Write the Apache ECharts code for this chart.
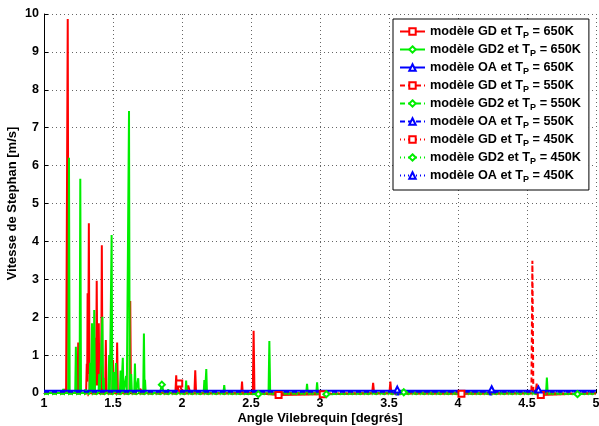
<!DOCTYPE html>
<html>
<head>
<meta charset="utf-8">
<script src="https://cdn.jsdelivr.net/npm/echarts@6/dist/echarts.min.js"></script>
<style>html,body{margin:0;padding:0;background:#fff}#c{width:599px;height:426px}</style>
</head>
<body>
<div id="c"></div>
<script>
// x ticks and y ticks
var xTicks = [1, 1.5, 2, 2.5, 3, 3.5, 4, 4.5, 5];
var yTicks = [0, 1, 2, 3, 4, 5, 6, 7, 8, 9, 10];

// series names
var models = ['GD', 'GD2', 'OA'];
var temps = ['650K', '550K', '450K'];

// modèle GD, Tp = 650K  [angle, vitesse]
var gd650 = [[1,0],[1.14,0],[1.15,0.1],[1.16,0],[1.166,0],[1.172,9.87],[1.178,0],[1.243,0],[1.248,1.33],[1.253,0],
 [1.305,0],[1.31,0.77],[1.313,0.3],[1.316,2.63],[1.32,0.5],[1.325,4.48],[1.33,0],[1.367,0],[1.372,1.46],[1.377,0.2],
 [1.382,2.96],[1.387,0.2],[1.392,0.3],[1.397,1.84],[1.401,0.3],[1.405,0.74],[1.41,0.1],[1.414,0],[1.419,3.9],[1.424,0],
 [1.443,0],[1.448,1.4],[1.453,0],[1.495,0],[1.5,0.87],[1.505,0],[1.525,0],[1.53,1.33],[1.535,0],[1.62,0],[1.625,2.43],
 [1.63,0],[1.7,0.1],[1.71,0],[1.952,0],[1.958,0.47],[1.964,0.05],[1.98,0.25],[1.995,0.1],[2.03,0],[2.045,0.2],[2.06,0],
 [2.09,0],[2.096,0.6],[2.102,0],[2.43,0],[2.435,0.3],[2.44,0],[2.513,0],[2.519,1.64],[2.525,0],[2.7,-0.05],[3.02,-0.03],
 [3.378,0],[3.385,0.27],[3.392,0],[3.503,0],[3.51,0.3],[3.517,0],[4.025,-0.02],[4.562,0],[4.57,0.25],[4.578,0],[4.6,-0.05],[5,0]];
var gd650Marks = [1.98, 2.7, 3.02, 4.025, 4.6];

// modèle GD2, Tp = 650K
var gd2650 = [[1,0],[1.13,0],[1.14,0.1],[1.15,0],[1.176,0],[1.181,6.21],[1.186,0],[1.226,0],[1.231,1.22],[1.236,0],
 [1.258,0],[1.263,5.65],[1.268,0],[1.295,0],[1.3,0.1],[1.305,0],[1.329,0],[1.334,0.8],[1.339,0],[1.343,0],[1.348,1.84],
 [1.353,0.1],[1.359,0],[1.364,2.19],[1.369,0],[1.395,0],[1.4,0.5],[1.405,0],[1.418,0],[1.423,2.01],[1.428,0.1],[1.432,0.4],
 [1.436,0],[1.467,0],[1.472,1.0],[1.477,0],[1.485,0],[1.49,4.17],[1.495,0],[1.502,0],[1.507,0.55],[1.512,0],[1.518,0],
 [1.522,0.79],[1.527,0],[1.55,0],[1.555,0.59],[1.56,0],[1.566,0],[1.571,0.93],[1.576,0],[1.59,0],[1.595,0.45],[1.6,0],
 [1.611,0],[1.616,7.44],[1.621,0],[1.628,0],[1.632,0.5],[1.637,0],[1.654,0],[1.659,0.78],[1.664,0],[1.678,0],[1.683,0.39],
 [1.688,0],[1.719,0],[1.724,1.57],[1.729,0],[1.732,0.35],[1.737,0],[1.84,0],[1.854,0.22],[1.868,0],[1.895,0],[1.9,0.1],
 [1.905,0],[2.025,0],[2.03,0.33],[2.035,0],[2.157,0],[2.162,0.34],[2.167,0],[2.171,0],[2.176,0.63],[2.181,0],[2.3,0],
 [2.306,0.21],[2.312,0],[2.553,-0.03],[2.627,0],[2.633,1.37],[2.639,0],[2.9,0],[2.906,0.24],[2.912,0],[2.973,0],[2.979,0.28],
 [2.985,0],[3.046,-0.03],[3.607,0.02],[4.638,0],[4.644,0.41],[4.65,0],[4.866,-0.03],[5,0]];
var gd2650Marks = [1.854, 2.553, 3.046, 3.607, 4.866];

// modèle OA, Tp = 650K
var oa650 = [[1,0.06],[3.55,0.06],[3.56,0.09],[3.57,0.06],[4.234,0.06],[4.244,0.1],[4.254,0.06],[4.573,0.06],[4.583,0.09],[4.593,0.06],[5,0.06]];
var oa650Marks = [3.56, 4.244, 4.583];

// Tp = 550K
var gd550 = [[1,-0.01],[1.95,-0.01],[1.97,0.12],[1.99,-0.01],[4.532,-0.01],[4.539,3.49],[4.546,-0.01],[5,-0.01]];
var gd2550 = [[1,-0.02],[1.3,-0.02],[1.31,0.1],[1.32,-0.02],[5,-0.02]];
var oa550 = [[1,0.03],[3.54,0.03],[3.55,-0.04],[3.58,-0.04],[3.59,0.03],[4.22,0.03],[4.23,-0.04],[4.26,-0.04],[4.27,0.03],[5,0.03]];

// Tp = 450K
var gd450 = [[1,-0.02],[1.3,-0.02],[1.32,-0.06],[1.36,-0.02],[5,-0.02]];
var gd2450 = [[1,-0.03],[1.5,-0.03],[1.52,-0.05],[1.54,-0.03],[5,-0.03]];
var oa450 = [[1,0.04],[5,0.04]];

var colors = {GD:'#ff0000', GD2:'#00ee00', OA:'#0000ff'};
var symbols = {GD:'emptyRect', GD2:'emptyDiamond', OA:'emptyTriangle'};
var dashes = {'650K':'solid', '550K':[5,3], '450K':[1,3]};

function nameOf(m, t){ return 'modèle ' + m + ' et T_P = ' + t; }

function build(pts, marks){
  return pts.map(function(p){
    if (marks && marks.indexOf(p[0]) >= 0) return {value:p};
    return {value:p, symbol:'none'};
  });
}

var table = [
  ['GD','650K',gd650,gd650Marks],
  ['GD2','650K',gd2650,gd2650Marks],
  ['OA','650K',oa650,oa650Marks],
  ['GD','550K',gd550,[]],
  ['GD2','550K',gd2550,[]],
  ['OA','550K',oa550,[]],
  ['GD','450K',gd450,[]],
  ['GD2','450K',gd2450,[]],
  ['OA','450K',oa450,[]]
];

var series = table.map(function(r){
  var m=r[0], t=r[1];
  return {
    name: nameOf(m,t), type:'line', data: build(r[2], r[3]),
    symbol: symbols[m], symbolSize: 6, showSymbol: true, showAllSymbol: true,
    clip: false, animation: false,
    lineStyle: {color: colors[m], width: 2, type: dashes[t]},
    itemStyle: {color: colors[m], borderColor: colors[m], borderWidth: 1.2},
    emphasis: {disabled: true}
  };
});

var FONT = 'Liberation Sans, Arial, Helvetica, sans-serif';
var chart = echarts.init(document.getElementById('c'), null, {renderer:'canvas'});
chart.setOption({
  backgroundColor: '#fff',
  animation: false,
  grid: {left: 44, right: 3, top: 14, bottom: 33, containLabel: false, outerBoundsMode: 'none'},
  xAxis: {
    type:'value', min: xTicks[0], max: xTicks[xTicks.length-1], interval: 0.5,
    name: 'Angle Vilebrequin [degrés]', nameLocation:'middle', nameGap: 19, nameMoveOverlap: false,
    nameTextStyle: {fontFamily: FONT, fontWeight:'bold', fontSize: 13, color:'#000'},
    axisLine: {show:true, lineStyle:{color:'#000', width:1}},
    axisTick: {show:true, inside:true, length:4, lineStyle:{color:'#000'}},
    axisLabel: {margin: 4, fontFamily: FONT, fontWeight:'bold', fontSize: 12.5, color:'#000',
      formatter: function(v){ return String(v); }},
    splitLine: {show:true, lineStyle:{color:'#666', type:[1,3], width:1}}
  },
  yAxis: {
    type:'value', min: yTicks[0], max: yTicks[yTicks.length-1], interval: 1,
    name: 'Vitesse de Stephan [m/s]', nameLocation:'middle', nameGap: 25, nameMoveOverlap: false,
    nameTextStyle: {fontFamily: FONT, fontWeight:'bold', fontSize: 13, color:'#000'},
    axisLine: {show:true, lineStyle:{color:'#000', width:1}},
    axisTick: {show:true, inside:true, length:4, lineStyle:{color:'#000'}},
    axisLabel: {margin: 5, fontFamily: FONT, fontWeight:'bold', fontSize: 12.5, color:'#000'},
    splitLine: {show:true, lineStyle:{color:'#666', type:[1,3], width:1}}
  },
  legend: {
    orient:'vertical', left: 393, top: 19,
    padding: [4, 8, 6, 6], itemGap: 1,
    itemWidth: 25, itemHeight: 8,
    backgroundColor:'#fff', borderColor:'#000', borderWidth: 1, borderRadius: 0,
    data: series.map(function(s){ return s.name; }),
    formatter: function(n){
      var parts = n.split('T_P');
      return '{a|' + parts[0] + 'T}{s|P}{a|' + parts[1] + '}';
    },
    textStyle: {
      fontFamily: FONT, fontWeight:'bold', fontSize: 12.7, color:'#000',
      rich: {
        a: {fontFamily: FONT, fontWeight:'bold', fontSize: 12.7, color:'#000', lineHeight: 14},
        s: {fontFamily: FONT, fontWeight:'bold', fontSize: 9, color:'#000', lineHeight: 9, padding:[8,0,0,0]}
      }
    }
  },
  series: series
});
</script>
</body>
</html>
